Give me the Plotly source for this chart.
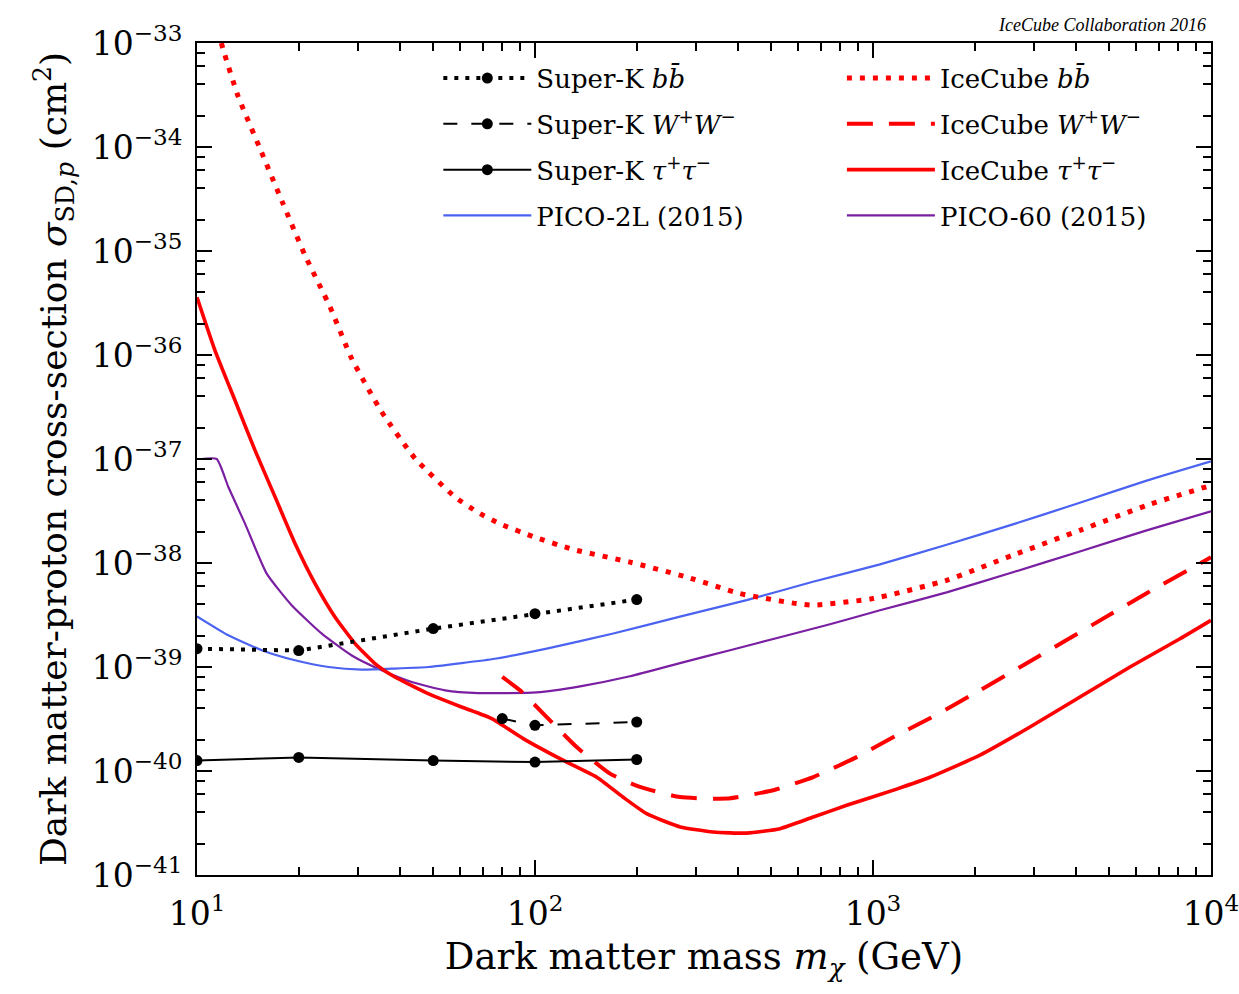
import plotly.graph_objects as go

# ---- Super-K (points at fixed WIMP masses) ----
sk_mass = [10, 20, 50, 100, 200]
sk_bb = [1.5e-39, 1.44e-39, 2.34e-39, 3.26e-39, 4.45e-39]
sk_tau = [1.26e-40, 1.35e-40, 1.26e-40, 1.22e-40, 1.29e-40]
sk_ww_mass = [80, 100, 200]
sk_ww = [3.19e-40, 2.75e-40, 2.96e-40]

# ---- IceCube 2016 limits ----
ic_bb_mass = [11.8, 12.04, 13.2, 15.36, 17.88, 20.87, 24.75, 28.7, 35.2, 44.2, 58.0,
              67.8, 78.8, 100, 129.6, 191, 281, 404, 594, 664, 1002, 1652, 2594, 4093,
              6453, 10000]
ic_bb = [1.0e-33, 8.0e-34, 3.14e-34, 9.66e-35, 2.96e-35, 9.1e-36, 2.9e-36, 9.2e-37, 2.83e-37,
         1.01e-37, 4.31e-38, 3.07e-38, 2.38e-38, 1.77e-38, 1.35e-38, 1.02e-38, 7.33e-39,
         5.08e-39, 4.07e-39, 3.93e-39, 4.55e-39, 6.82e-39, 1.19e-38, 2.06e-38, 3.58e-38,
         5.58e-38]

ic_ww_mass = [80, 90.3, 108.3, 132.8, 166.7, 204.5, 268.5, 369, 507, 666, 895, 1175,
              1474, 2073, 3120, 4486, 6454, 10000]
ic_ww = [8.02e-40, 5.97e-40, 3.3e-40, 1.7e-40, 9.44e-41, 7.02e-41, 5.62e-41, 5.43e-41,
         6.53e-41, 8.75e-41, 1.36e-40, 2.2e-40, 3.21e-40, 5.97e-40, 1.29e-39, 2.57e-39,
         5.13e-39, 1.135e-38]

ic_tau_mass = [10, 11.3, 12.95, 14.85, 17.02, 19.5, 22.35, 25.6, 29.35, 33.6, 38.5, 48.3,
               60.7, 74.5, 92.3, 121, 152, 182, 214, 269, 337, 423, 531, 666, 836, 1175,
               1474, 2073, 2914, 4097, 5760, 8097, 10000]
ic_tau = [3.59e-36, 1.11e-36, 3.67e-37, 1.21e-37, 4.32e-38, 1.54e-38, 6.34e-39, 3.03e-39,
          1.68e-39, 1.08e-39, 8.02e-40, 5.55e-40, 4.12e-40, 3.19e-40, 2.05e-40, 1.27e-40,
          8.75e-41, 5.62e-41, 3.89e-41, 2.9e-41, 2.59e-41, 2.53e-41, 2.79e-41, 3.61e-41,
          4.68e-41, 6.7e-41, 8.7e-41, 1.42e-40, 2.65e-40, 5.15e-40, 1.0e-39, 1.87e-39,
          2.81e-39]

# ---- PICO direct-detection limits ----
pico2l_mass = [10, 12.38, 15.54, 19.5, 24.5, 30.7, 38.5, 48.3, 60.7, 76.1, 108.3, 170.5,
               268.5, 423, 664, 1049, 1652, 2594, 4093, 6453, 10000]
pico2l = [3.07e-39, 2.02e-39, 1.45e-39, 1.16e-39, 1.0e-39, 9.44e-40, 9.66e-40, 1.0e-39,
          1.09e-39, 1.2e-39, 1.5e-39, 2.1e-39, 3.05e-39, 4.4e-39, 6.6e-39, 9.7e-39,
          1.5e-38, 2.35e-38, 3.8e-38, 6.2e-38, 9.5e-38]

pico60_mass = [10.3, 11.44, 12.38, 13.87, 16.08, 19.06, 23.4, 28.7, 35.2, 43.2, 54.2, 67.9,
               101, 136, 191, 268.5, 377.6, 531, 746, 1049, 1652, 2594, 4093, 6453, 10000]
pico60 = [1.0e-37, 1.0e-37, 5.38e-38, 2.39e-38, 7.9e-39, 3.92e-39, 2.09e-39, 1.29e-39,
          9.29e-40, 7.17e-40, 5.97e-40, 5.62e-40, 5.7e-40, 6.52e-40, 8.15e-40, 1.09e-39,
          1.45e-39, 1.93e-39, 2.58e-39, 3.51e-39, 5.22e-39, 8.14e-39, 1.29e-38, 2.06e-38,
          3.14e-38]

FONT = "DejaVu Serif"
RED = "#ff0000"
BLUE = "#4b63f0"
PURPLE = "#7a1fa2"
SMOOTH = dict(shape="spline", smoothing=0.5)

fig = go.Figure()

fig.add_trace(go.Scatter(x=pico60_mass, y=pico60, mode="lines", name="PICO-60 (2015)",
                         line=dict(color=PURPLE, width=2.2, **SMOOTH), legend="legend2",
                         legendgroup="p60", legendrank=4))
fig.add_trace(go.Scatter(x=pico2l_mass, y=pico2l, mode="lines", name="PICO-2L (2015)",
                         line=dict(color=BLUE, width=2.2, **SMOOTH), legend="legend",
                         legendgroup="p2l", legendrank=4))
fig.add_trace(go.Scatter(x=ic_bb_mass, y=ic_bb, mode="lines",
                         name="IceCube <i>bb̄</i>",
                         line=dict(color=RED, width=5, dash="5px,8px", **SMOOTH),
                         legend="legend2", legendgroup="icbb", legendrank=1))
fig.add_trace(go.Scatter(x=ic_ww_mass, y=ic_ww, mode="lines",
                         name="IceCube <i>W</i><sup>+</sup><i>W</i><sup>−</sup>",
                         line=dict(color=RED, width=4, dash="26px,16px", **SMOOTH),
                         legend="legend2", legendgroup="icww", legendrank=2))
fig.add_trace(go.Scatter(x=ic_tau_mass, y=ic_tau, mode="lines",
                         name="IceCube <i>τ</i><sup>+</sup><i>τ</i><sup>−</sup>",
                         line=dict(color=RED, width=3.6, **SMOOTH), legend="legend2",
                         legendgroup="ictau", legendrank=3))

marker = dict(color="black", size=11, symbol="circle")
fig.add_trace(go.Scatter(x=sk_mass, y=sk_bb, mode="lines+markers",
                         name="Super-K <i>bb̄</i>", marker=marker,
                         line=dict(color="black", width=4, dash="4px,7px"),
                         legend="legend", legendgroup="skbb", legendrank=1))
fig.add_trace(go.Scatter(x=sk_ww_mass, y=sk_ww, mode="lines+markers",
                         name="Super-K <i>W</i><sup>+</sup><i>W</i><sup>−</sup>",
                         marker=marker, line=dict(color="black", width=2, dash="14px,14px"),
                         legend="legend", legendgroup="skww", legendrank=2))
fig.add_trace(go.Scatter(x=sk_mass, y=sk_tau, mode="lines+markers",
                         name="Super-K <i>τ</i><sup>+</sup><i>τ</i><sup>−</sup>",
                         marker=marker, line=dict(color="black", width=2),
                         legend="legend", legendgroup="sktau", legendrank=3))

# tick positions
x_tickvals = [10, 100, 1000, 10000]
x_ticktext = ["10<sup>1</sup>", "10<sup>2</sup>", "10<sup>3</sup>", "10<sup>4</sup>"]
x_minor = [m * 10.0 ** d for d in (1, 2, 3) for m in range(2, 10)]
y_exps = list(range(-41, -32))
y_tickvals = [10.0 ** e for e in y_exps]
y_ticktext = ["10<sup>−%d</sup>" % (-e) for e in y_exps]
y_minor = [m * 10.0 ** e for e in range(-41, -33) for m in (2, 4, 6, 8)]

axis_common = dict(
    type="log", showgrid=False, zeroline=False, showline=True, linecolor="black",
    linewidth=2, mirror="allticks", ticks="inside", ticklen=15, tickwidth=2,
    tickcolor="black", tickfont=dict(family=FONT, size=33, color="black"),
    ticklabeloverflow="allow", automargin=False,
)

fig.update_xaxes(range=[1, 4.0001], tickmode="array", tickvals=x_tickvals,
                 ticktext=x_ticktext, ticklabelstandoff=8,
                 minor=dict(tickmode="array", tickvals=x_minor, ticks="inside", ticklen=8,
                            tickwidth=1.5, tickcolor="black", showgrid=False),
                 title=dict(text="Dark matter mass <i>m</i><sub><i>χ</i></sub> (GeV)",
                            font=dict(family=FONT, size=37, color="black"), standoff=12),
                 **axis_common)
fig.update_yaxes(range=[-41, -33], tickmode="array", tickvals=y_tickvals, ticktext=y_ticktext,
                 ticklabelstandoff=6,
                 minor=dict(tickmode="array", tickvals=y_minor, ticks="inside", ticklen=8,
                            tickwidth=1.5, tickcolor="black", showgrid=False),
                 title=dict(text="Dark matter-proton cross-section <i>σ</i><sub>SD,<i>p</i></sub> (cm<sup>2</sup>)",
                            font=dict(family=FONT, size=36, color="black"), standoff=14),
                 **axis_common)

legend_common = dict(font=dict(family=FONT, size=26, color="black"), bgcolor="rgba(0,0,0,0)",
                     traceorder="grouped", tracegroupgap=9, itemwidth=88,
                     xanchor="left", yanchor="top")
fig.update_layout(
    width=1239, height=994,
    margin=dict(l=197, r=28, t=43, b=119, autoexpand=False),
    plot_bgcolor="white", paper_bgcolor="white",
    showlegend=True,
    legend=dict(x=0.238, y=0.986, **legend_common),
    legend2=dict(x=0.636, y=0.986, **legend_common),
    annotations=[dict(text="<i>IceCube Collaboration 2016</i>", xref="paper", yref="paper",
                      x=0.997, y=1.0, xanchor="right", yanchor="bottom", yshift=6,
                      showarrow=False,
                      font=dict(family="Liberation Serif", size=18, color="black"))],
)

fig.write_html("out.html")
